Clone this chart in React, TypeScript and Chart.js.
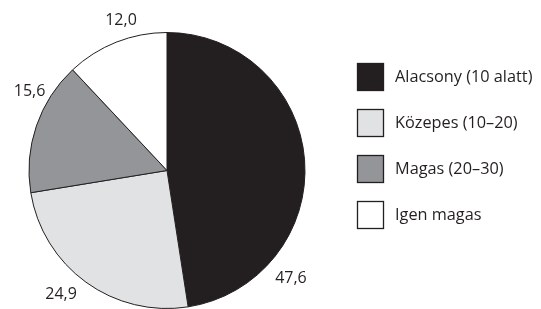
import React, { useEffect, useRef } from "react";
import { Chart, registerables } from "chart.js";

Chart.register(...registerables);

const categories = ["Alacsony (10 alatt)", "Közepes (10–20)", "Magas (20–30)", "Igen magas"];
const values = [47.6, 24.9, 15.6, 12.0];
const sliceColors = ["#231f20", "#e1e2e4", "#939598", "#ffffff"];
// label placement around the pie: angle (deg, clockwise from top) and distance as a factor of radius
const labelAngles = [131, 220.6, 300, 343];
const labelDistances = [1.19, 1.18, 1.15, 1.14];

const FONT = "'Open Sans', sans-serif";

const outsideLabels = {
  id: "outsideLabels",
  afterDatasetsDraw(chart: any) {
    const arc = chart.getDatasetMeta(0).data[0];
    if (!arc) return;
    const { x, y, outerRadius } = arc.getProps(["x", "y", "outerRadius"], true);
    const ctx = chart.ctx;
    ctx.save();
    ctx.font = `16px ${FONT}`;
    ctx.fillStyle = "#231f20";
    ctx.textAlign = "center";
    ctx.textBaseline = "middle";
    values.forEach((v, i) => {
      const a = (labelAngles[i] * Math.PI) / 180;
      const d = outerRadius * labelDistances[i];
      ctx.fillText(v.toFixed(1).replace(".", ","), x + d * Math.sin(a), y - d * Math.cos(a));
    });
    ctx.restore();
  },
};

const sideLegend = {
  id: "sideLegend",
  afterDraw(chart: any) {
    const ctx = chart.ctx;
    ctx.save();
    ctx.font = `16.3px ${FONT}`;
    ctx.textAlign = "left";
    ctx.textBaseline = "middle";
    categories.forEach((c, i) => {
      const top = 63 + i * 46;
      ctx.fillStyle = sliceColors[i];
      ctx.fillRect(357.5, top + 0.5, 26, 27);
      ctx.strokeStyle = "#231f20";
      ctx.lineWidth = 1.3;
      ctx.strokeRect(357.5, top + 0.5, 26, 27);
      ctx.fillStyle = "#231f20";
      ctx.fillText(c, 395, top + 14);
    });
    ctx.restore();
  },
};

export default function App() {
  const ref = useRef<HTMLCanvasElement>(null);
  useEffect(() => {
    if (!ref.current) return;
    const chart = new Chart(ref.current, {
      type: "pie",
      data: {
        labels: categories,
        datasets: [
          {
            data: values,
            backgroundColor: sliceColors,
            borderColor: "#231f20",
            borderWidth: 1,
          },
        ],
      },
      options: {
        responsive: false,
        animation: false,
        layout: { padding: { left: 26, top: 32, right: 233, bottom: -5 } },
        plugins: {
          legend: { display: false },
          tooltip: { enabled: false },
        },
      },
      plugins: [outsideLabels, sideLegend],
    });
    return () => chart.destroy();
  }, []);
  return (
    <div style={{ position: "absolute", left: 0, top: 0, width: 541, height: 309, background: "#fff" }}>
      <canvas ref={ref} width={541} height={309} />
    </div>
  );
}
